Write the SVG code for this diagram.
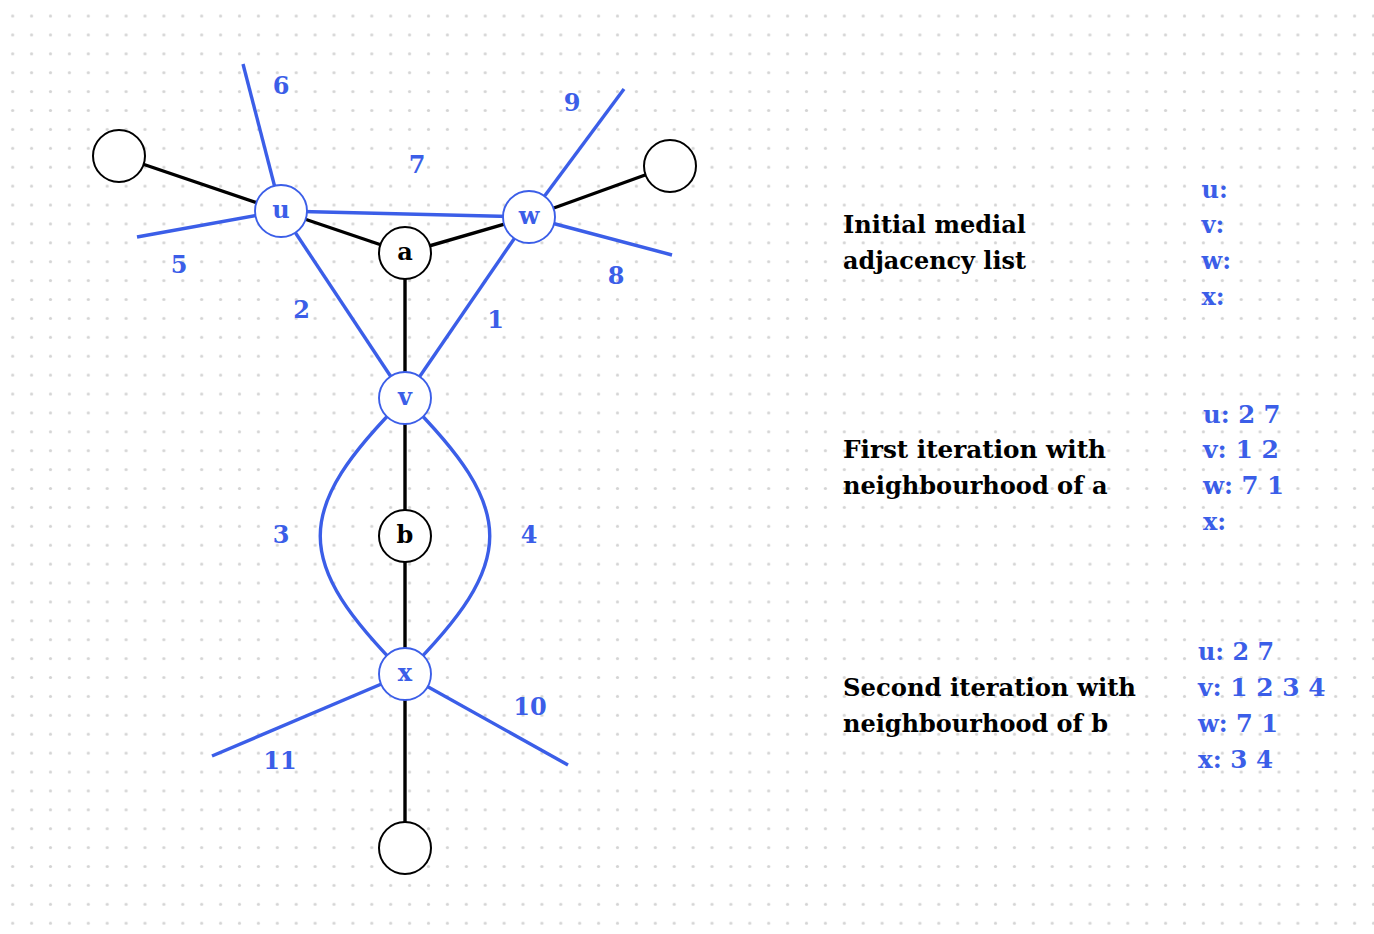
<svg xmlns="http://www.w3.org/2000/svg" width="1374" height="934" viewBox="0 0 1374 934">
<defs>
<pattern id="dots" x="3.25" y="6.55" width="18.9" height="18.9" patternUnits="userSpaceOnUse">
<circle cx="9.45" cy="9.45" r="1.6" fill="#d4d4d4"/>
</pattern>
<style>
text{font-family:"DejaVu Serif","Liberation Serif",serif;font-weight:bold;font-size:24px}
.k{stroke:#000;stroke-width:3.4;fill:none}
.b{stroke:#3b5ee8;stroke-width:3.4;fill:none}
.nk{fill:#fff;stroke:#000;stroke-width:2}
.nb{fill:#fff;stroke:#3b5ee8;stroke-width:1.9}
.tk{fill:#000}
.tb{fill:#3b5ee8}
.c{text-anchor:middle}
</style>
</defs>
<rect width="1374" height="934" fill="#fff"/>
<rect width="1374" height="934" fill="url(#dots)"/>
<g id="connectors">
<line class="k" x1="119" y1="156" x2="281" y2="211"/>
<line class="k" x1="281" y1="211" x2="405" y2="253"/>
<line class="k" x1="405" y1="253" x2="529" y2="217"/>
<line class="k" x1="529" y1="217" x2="670" y2="166"/>
<line class="k" x1="405" y1="253" x2="405" y2="398"/>
<line class="k" x1="405" y1="398" x2="405" y2="536"/>
<line class="k" x1="405" y1="536" x2="405" y2="674"/>
<line class="k" x1="405" y1="674" x2="405" y2="848"/>
<line class="b" x1="281" y1="211" x2="529" y2="217"/>
<line class="b" x1="281" y1="211" x2="405" y2="398"/>
<line class="b" x1="529" y1="217" x2="405" y2="398"/>
<line class="b" x1="281" y1="211" x2="243" y2="64"/>
<line class="b" x1="281" y1="211" x2="137" y2="237"/>
<line class="b" x1="529" y1="217" x2="624" y2="89"/>
<line class="b" x1="529" y1="217" x2="672" y2="255"/>
<line class="b" x1="405" y1="674" x2="212" y2="756"/>
<line class="b" x1="405" y1="674" x2="568" y2="765"/>
<path class="b" d="M405,398 C292,511 292,561 405,674"/>
<path class="b" d="M405,398 C518,511 518,561 405,674"/>
<g class="tb c">
<text x="281" y="94">6</text>
<text x="179" y="273">5</text>
<text x="417" y="173">7</text>
<text x="572" y="110.5">9</text>
<text x="616" y="284">8</text>
<text x="301.5" y="318">2</text>
<text x="495.5" y="328">1</text>
<text x="281" y="543">3</text>
<text x="529" y="543">4</text>
<text x="530" y="715">10</text>
<text x="280" y="769">11</text>
</g>
</g>
<g id="n_tl"><circle class="nk" cx="119" cy="156" r="26"/></g>
<g id="n_tr"><circle class="nk" cx="670" cy="166" r="26"/></g>
<g id="n_bot"><circle class="nk" cx="405" cy="848" r="26"/></g>
<g id="n_a"><circle class="nk" cx="405" cy="253" r="26"/><text class="tk c" x="405" y="260">a</text></g>
<g id="n_b"><circle class="nk" cx="405" cy="536" r="26"/><text class="tk c" x="405" y="543">b</text></g>
<g id="n_u"><circle class="nb" cx="281" cy="211" r="26"/><text class="tb c" x="281" y="218">u</text></g>
<g id="n_w"><circle class="nb" cx="529" cy="217" r="26"/><text class="tb c" x="529" y="224">w</text></g>
<g id="n_v"><circle class="nb" cx="405" cy="398" r="26"/><text class="tb c" x="405" y="405">v</text></g>
<g id="n_x"><circle class="nb" cx="405" cy="674" r="26"/><text class="tb c" x="405" y="681">x</text></g>
<g id="block1">
<text class="tk" x="843" y="233" textLength="183" lengthAdjust="spacingAndGlyphs">Initial medial</text>
<text class="tk" x="843" y="269" textLength="183" lengthAdjust="spacingAndGlyphs">adjacency list</text>
<text class="tb" x="1201.5" y="197.5">u:</text>
<text class="tb" x="1201.5" y="233.3">v:</text>
<text class="tb" x="1201.5" y="269.3">w:</text>
<text class="tb" x="1201.5" y="305">x:</text>
</g>
<g id="block2">
<text class="tk" x="843" y="458.3" textLength="263" lengthAdjust="spacingAndGlyphs">First iteration with</text>
<text class="tk" x="843" y="494.3" textLength="264.5" lengthAdjust="spacingAndGlyphs">neighbourhood of a</text>
<text class="tb" x="1203" y="422.7" textLength="77.5" lengthAdjust="spacingAndGlyphs">u: 2 7</text>
<text class="tb" x="1203" y="458.3" textLength="76" lengthAdjust="spacingAndGlyphs">v: 1 2</text>
<text class="tb" x="1203" y="494.3" textLength="81" lengthAdjust="spacingAndGlyphs">w: 7 1</text>
<text class="tb" x="1203" y="530">x:</text>
</g>
<g id="block3">
<text class="tk" x="843" y="696" textLength="293" lengthAdjust="spacingAndGlyphs">Second iteration with</text>
<text class="tk" x="843" y="732" textLength="265" lengthAdjust="spacingAndGlyphs">neighbourhood of b</text>
<text class="tb" x="1198" y="660" textLength="76" lengthAdjust="spacingAndGlyphs">u: 2 7</text>
<text class="tb" x="1198" y="696" textLength="127.5" lengthAdjust="spacingAndGlyphs">v: 1 2 3 4</text>
<text class="tb" x="1198" y="731.7" textLength="80" lengthAdjust="spacingAndGlyphs">w: 7 1</text>
<text class="tb" x="1198" y="767.7" textLength="75" lengthAdjust="spacingAndGlyphs">x: 3 4</text>
</g>
</svg>
